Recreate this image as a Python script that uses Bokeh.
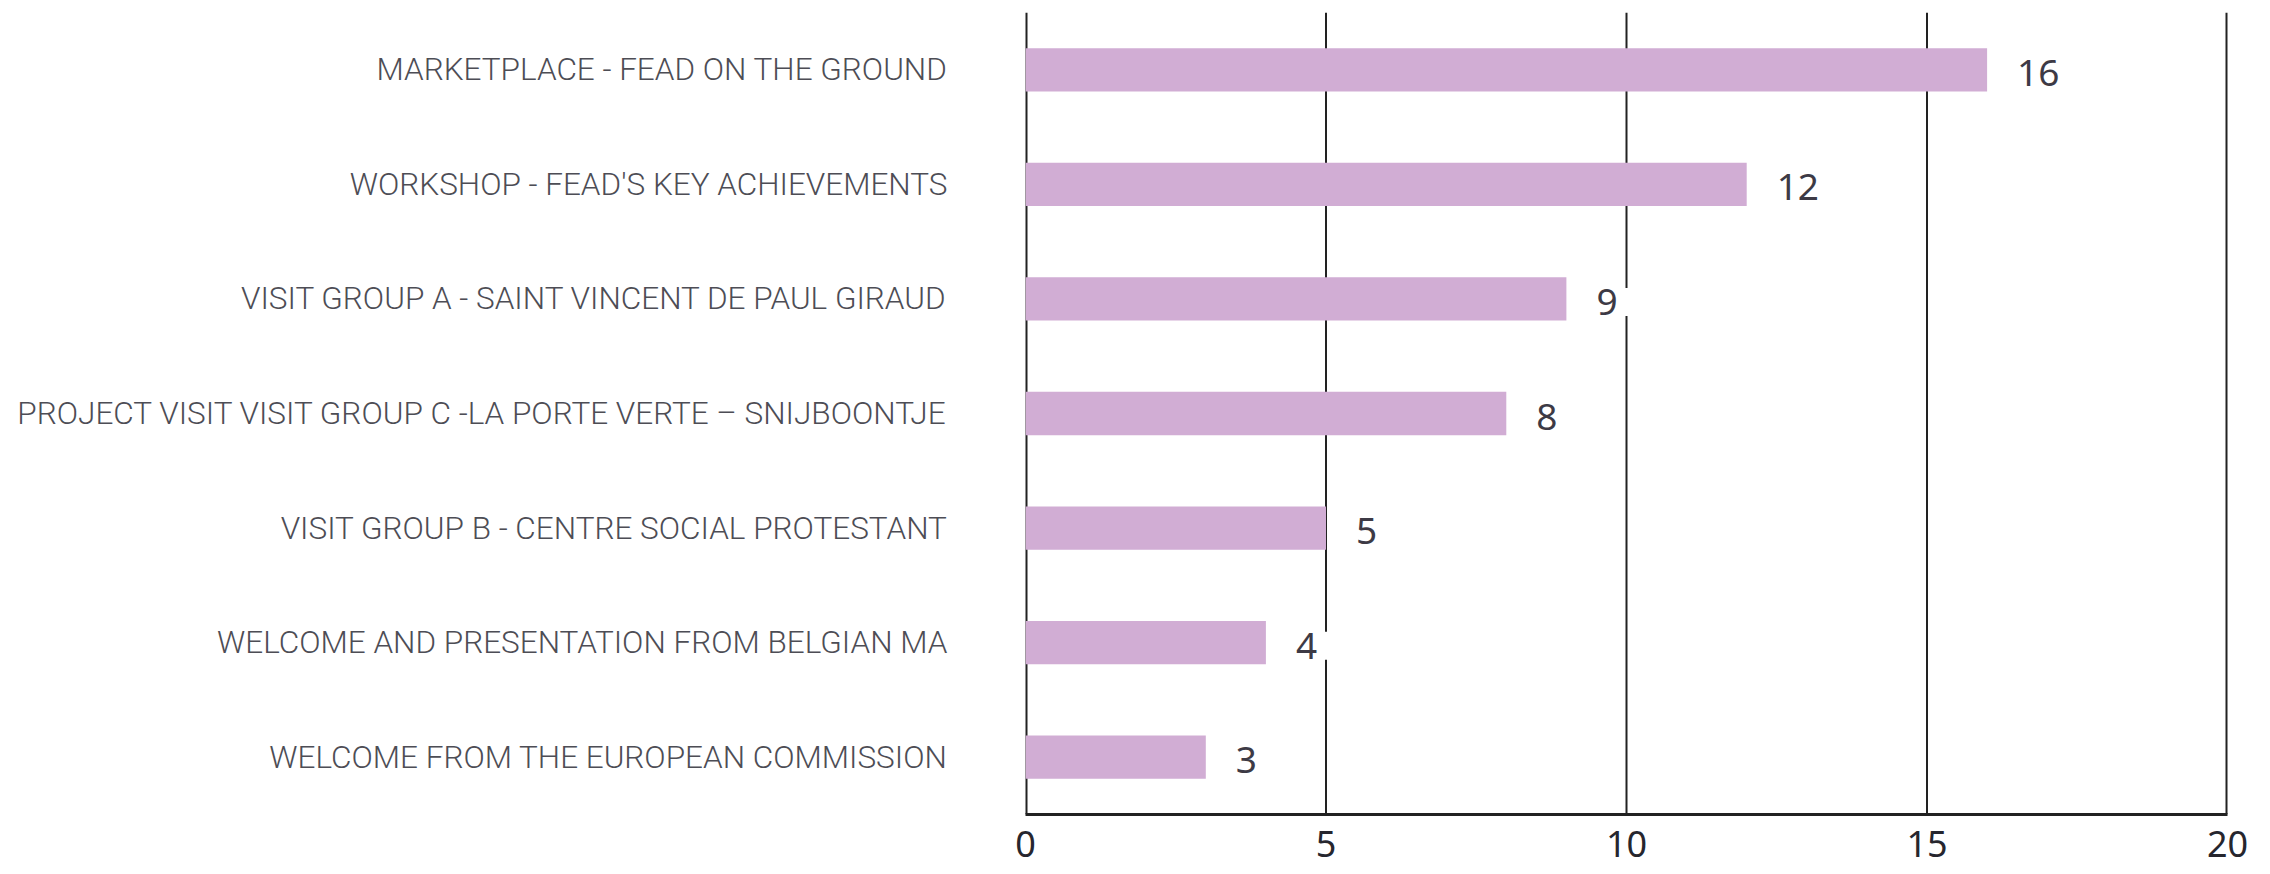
from bokeh.plotting import figure
from bokeh.models import ColumnDataSource, FixedTicker, FactorRange, Range1d, Span
from bokeh.core.properties import value
from bokeh.embed import file_html
from bokeh.resources import INLINE

# Data (top to bottom as shown)
sessions = [
    "MARKETPLACE - FEAD ON THE GROUND",
    "WORKSHOP - FEAD'S KEY ACHIEVEMENTS",
    "VISIT GROUP A - SAINT VINCENT DE PAUL GIRAUD",
    "PROJECT VISIT VISIT GROUP C -LA PORTE VERTE \u2013 SNIJBOONTJE",
    "VISIT GROUP B - CENTRE SOCIAL PROTESTANT",
    "WELCOME AND PRESENTATION FROM BELGIAN MA",
    "WELCOME FROM THE EUROPEAN COMMISSION",
]
counts = [16, 12, 9, 8, 5, 4, 3]
x_ticks = [0, 5, 10, 15, 20]

src = ColumnDataSource(dict(
    cat=sessions,
    val=counts,
    lbl=[str(v) for v in counts],
))

p = figure(
    width=2262, height=874,
    y_range=FactorRange(*list(reversed(sessions)), range_padding=0),
    x_range=Range1d(x_ticks[0], x_ticks[-1]),
    output_backend="svg", toolbar_location=None,
    min_border_left=1025, min_border_right=35,
    min_border_top=12, min_border_bottom=60,
)
p.outline_line_color = None
p.background_fill_color = "white"

# vertical reference lines at every tick (behind the bars);
# the ones on the frame edges are half clipped, so draw them wider
for t in x_ticks:
    edge = t in (x_ticks[0], x_ticks[-1])
    p.add_layout(Span(location=t, dimension="height", line_color="#222222",
                      line_width=4 if edge else 2, level="underlay"))

p.hbar(y="cat", left=0, right="val", height=0.378, source=src,
       fill_color="#d1add4", line_color=None)

p.text(x="val", y="cat", text="lbl", source=src,
       x_offset=24, y_offset=3, text_align="left", text_baseline="middle",
       text_font=value("Noto Sans"), text_font_size="37px",
       text_color="#3d3a45",
       background_fill_color="white",
       padding=dict(left=6, right=18, top=1, bottom=1))

# x axis
p.xaxis.ticker = FixedTicker(ticks=x_ticks)
p.xaxis.axis_line_color = "#222222"
p.xaxis.axis_line_width = 3
p.xaxis.major_tick_line_color = None
p.xaxis.minor_tick_line_color = None
p.xaxis.major_label_standoff = 10
p.xaxis.major_label_text_font = "Noto Sans"
p.xaxis.major_label_text_font_size = "36px"
p.xaxis.major_label_text_color = "#26262e"

# y axis
p.yaxis.axis_line_color = None
p.yaxis.major_tick_line_color = None
p.yaxis.minor_tick_line_color = None
p.yaxis.major_label_standoff = 72
p.yaxis.major_label_text_font = "Roboto Light, Roboto"
p.yaxis.major_label_text_font_size = "31.5px"
p.yaxis.major_label_text_color = "#4d4d55"

# grid
p.xgrid.grid_line_color = None
p.ygrid.grid_line_color = None

open("out.html", "w").write(file_html(p, INLINE))
